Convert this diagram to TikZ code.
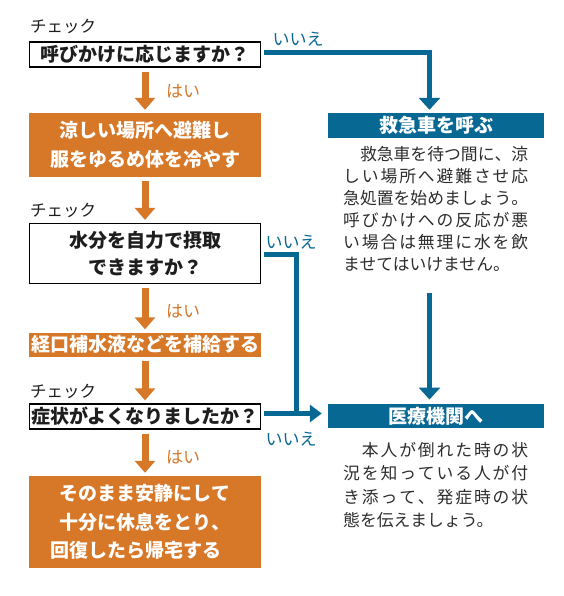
\documentclass[tikz,border=0pt]{standalone}
\usepackage{fontspec}
\setmainfont{Noto Sans CJK JP}
\usetikzlibrary{arrows.meta}
\definecolor{orng}{RGB}{215,119,40}
\definecolor{bleu}{RGB}{8,104,148}
\definecolor{ink}{RGB}{30,30,30}
\definecolor{bodyink}{RGB}{45,45,45}
\ExplSyntaxOn
\NewDocumentCommand\jl{m}{\hbox to 185pt{\tl_map_inline:nn{#1}{##1\hskip 0pt plus 1fil}\unskip}}
\ExplSyntaxOff
\tikzset{
  qbox/.style={draw=black, line width=1.3pt, fill=white, minimum width=231pt, inner sep=0pt,
    font=\fontsize{19}{27}\selectfont\bfseries, text=ink, align=center},
  abox/.style={fill=orng, minimum width=232pt, inner sep=0pt,
    font=\fontsize{19}{28.5}\selectfont\bfseries, text=white, align=center},
  tbox/.style={fill=bleu, minimum width=216pt, inner sep=0pt, text=white,
    font=\fontsize{19}{24}\selectfont\bfseries},
  chk/.style={font=\fontsize{16.5}{20}\selectfont, text=ink, inner sep=0pt, anchor=west},
  yes/.style={font=\fontsize{17}{20}\selectfont, text=orng, inner sep=0pt},
  nolbl/.style={font=\fontsize{17}{20}\selectfont, text=bleu, inner sep=0pt},
  body/.style={font=\fontsize{16.8}{22}\selectfont, text=bodyink, align=left, inner sep=0pt, anchor=base west},
  oarrow/.style={draw=orng, line width=7pt, -{Triangle[width=20pt,length=12pt]}, shorten <=4pt, shorten >=3pt},
  bline/.style={draw=bleu, line width=5pt},
  bvarrow/.style={bline, -{Triangle[width=21pt,length=12pt]}},
  bharrow/.style={bline, -{Triangle[width=17pt,length=12pt]}}
}
\begin{document}
\begin{tikzpicture}[x=1pt,y=-1pt]
\useasboundingbox (0,0) rectangle (563,596);
\fill[white] (0,0) rectangle (563,596);

% left column
\node[chk] (c1) at (30,26) {チェック};
\node[qbox, minimum height=25pt] (q1) at (145,54.5) {呼びかけに応じますか？};
\node[abox, minimum height=64pt] (a1) at (145,145) {涼しい場所へ避難し\\服をゆるめ体を冷やす};
\node[chk] (c2) at (30,210) {チェック};
\node[qbox, minimum height=60pt] (q2) at (145,253.5) {水分を自力で摂取\\できますか？};
\node[abox, minimum height=24pt] (a2) at (145,344.5) {経口補水液などを補給する};
\node[chk] (c3) at (30,391) {チェック};
\node[qbox, minimum height=25pt] (q3) at (145,416.5) {症状がよくなりましたか？};
\node[abox, minimum height=92pt] (a3) at (145,522) {そのまま安静にして\\十分に休息をとり、\\回復したら帰宅する　};

\node[yes] (y1) at (183,91) {はい};
\node[yes] (y2) at (183,311) {はい};
\node[yes] (y3) at (183,457) {はい};

\draw[oarrow] (q1.south) -- (a1.north);
\draw[oarrow] (a1.south) -- (q2.north);
\draw[oarrow] (q2.south) -- (a2.north);
\draw[oarrow] (a2.south) -- (q3.north);
\draw[oarrow] (q3.south) -- (a3.north);

% right column
\node[tbox, minimum height=25pt] (kyu) at (436,125.5) {救急車を呼ぶ};
\node[body] (kyutxt) at (343,270.4) {\jl{　救急車を待つ間に、涼}\\\jl{しい場所へ避難させ応}\\\jl{急処置を始めましょう。}\\\jl{呼びかけへの反応が悪}\\\jl{い場合は無理に水を飲}\\ませてはいけません。};
\node[tbox, minimum height=24.5pt] (iryo) at (436,416) {医療機関へ};
\node[body, font=\fontsize{16.8}{23.3}\selectfont] (iryotxt) at (343,526.4) {\jl{　本人が倒れた時の状}\\\jl{況を知っている人が付}\\\jl{き添って、発症時の状}\\態を伝えましょう。};

\node[nolbl] (n1) at (298,39) {いいえ};
\node[nolbl] (n2) at (291,242) {いいえ};
\node[nolbl] (n3) at (291,439) {いいえ};

\coordinate (jn) at (296.5,413.5);
\coordinate (kb) at (429.5,293);

\draw[bvarrow] ([xshift=3pt,yshift=2pt]q1.east) -| ([xshift=-6.5pt,yshift=3pt]kyu.north);
\draw[bline] ([xshift=3pt,yshift=-1pt]q2.east) -| (jn);
\draw[bharrow] ([xshift=3pt,yshift=3pt]q3.east) -- ([xshift=-6pt,yshift=2.5pt]iryo.west);
\draw[bvarrow] (kb) -- ([xshift=-6.5pt,yshift=4pt]iryo.north);
\end{tikzpicture}
\end{document}
